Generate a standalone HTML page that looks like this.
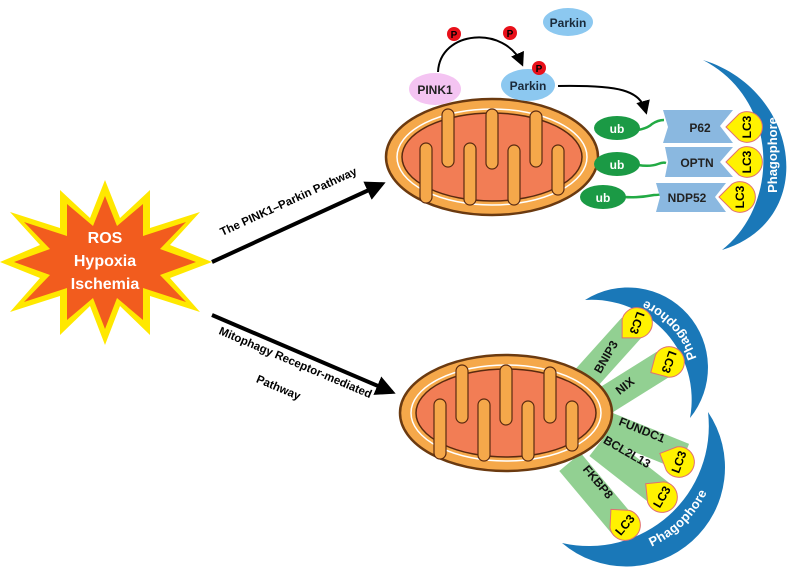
<!DOCTYPE html>
<html><head><meta charset="utf-8"><style>
html,body{margin:0;padding:0;background:#fff;}
svg{display:block;font-family:"Liberation Sans",Arial,sans-serif;font-weight:bold;}
</style></head><body>
<svg width="795" height="574" viewBox="0 0 795 574">
<defs>
  <marker id="ah" viewBox="0 0 10 10" refX="8" refY="5" markerWidth="5" markerHeight="5" orient="auto"><path d="M0,0 L10,5 L0,10 Z" fill="#000"/></marker>
  <marker id="ah2" viewBox="0 0 10 10" refX="8" refY="5" markerWidth="7" markerHeight="7" orient="auto"><path d="M0,0 L10,5 L0,10 Z" fill="#000"/></marker>
  <g id="mito">
    <ellipse cx="0" cy="0" rx="106" ry="58" fill="#F5A84A" stroke="#6b3a10" stroke-width="2.5"/>
    <ellipse cx="0" cy="0" rx="95" ry="48" fill="none" stroke="#fff" stroke-width="1.5"/>
    <ellipse cx="0" cy="0" rx="90" ry="44" fill="#F27D55" stroke="#5a2a10" stroke-width="1.5"/>
    <g fill="#F5A84A" stroke="#5a2a10" stroke-width="1.2">
      <rect x="-72" y="-14" width="12" height="60" rx="6"/>
      <rect x="-50" y="-48" width="12" height="58" rx="6"/>
      <rect x="-28" y="-14" width="12" height="62" rx="6"/>
      <rect x="-6" y="-48" width="12" height="60" rx="6"/>
      <rect x="16" y="-12" width="12" height="60" rx="6"/>
      <rect x="38" y="-46" width="12" height="56" rx="6"/>
      <rect x="60" y="-12" width="12" height="50" rx="6"/>
    </g>
  </g>
  <path id="lc3" d="M-21,0 L-8,-13 A15.3,15.3 0 1 1 -8,13 Z" fill="#FFF200" stroke="#E07070" stroke-width="1"/>
  <path id="arcU" d="M690,418 A89,89 0 0 0 585,300" fill="none"/>
  <path id="arcL" d="M562,543 A108,108 0 0 0 708,412" fill="none"/>
</defs>

<!-- Starburst -->
<g>
  <polygon fill="#FFE800" points="105,180 120,218 150,190 150,228 200,212 170,245 212,262 170,278 200,312 150,296 150,335 120,306 105,345 90,306 60,335 60,296 10,312 40,278 0,262 40,245 10,212 60,228 60,190 90,218"/>
  <polygon fill="#F25C1E" points="105,196 117,226 143,204 143,236 186,222 160,249 196,262 160,275 186,302 143,288 143,320 117,298 105,329 93,298 67,320 67,288 24,302 50,275 14,262 50,249 24,222 67,236 67,204 93,226"/>
  <text x="105" y="243" fill="#fff" font-size="16" text-anchor="middle">ROS</text>
  <text x="105" y="266" fill="#fff" font-size="16" text-anchor="middle">Hypoxia</text>
  <text x="105" y="289" fill="#fff" font-size="16" text-anchor="middle">Ischemia</text>
</g>

<!-- Arrows -->
<line x1="212" y1="262" x2="382" y2="184" stroke="#000" stroke-width="4" marker-end="url(#ah)"/>
<line x1="212" y1="315" x2="392" y2="392" stroke="#000" stroke-width="4" marker-end="url(#ah)"/>
<text transform="translate(290,205) rotate(-24.6)" font-size="11.5" text-anchor="middle">The PINK1–Parkin Pathway</text>
<text transform="translate(294,366) rotate(23)" font-size="11.5" text-anchor="middle">Mitophagy Receptor-mediated</text>
<text transform="translate(277,391) rotate(23)" font-size="11.5" text-anchor="middle">Pathway</text>

<!-- Top pathway -->
<use href="#mito" transform="translate(492,157)"/>
<ellipse cx="568" cy="22" rx="25" ry="14" fill="#8CC8F0"/>
<text x="568" y="27" font-size="12" text-anchor="middle" fill="#1a2a3a">Parkin</text>
<path d="M438,72 C440,30 505,25 522,64" fill="none" stroke="#000" stroke-width="2" marker-end="url(#ah2)"/>
<ellipse cx="435" cy="89" rx="26" ry="16" fill="#F4C4F2"/>
<text x="435" y="94" font-size="12" text-anchor="middle" fill="#222">PINK1</text>
<ellipse cx="528" cy="85" rx="27" ry="16" fill="#8CC8F0"/>
<text x="528" y="90" font-size="12" text-anchor="middle" fill="#1a2a3a">Parkin</text>
<g font-size="10" fill="#000" text-anchor="middle">
  <circle cx="454" cy="34" r="7" fill="#E8101A"/><text x="454" y="38">P</text>
  <circle cx="510" cy="33" r="7" fill="#E8101A"/><text x="510" y="37">P</text>
  <circle cx="539" cy="68" r="7" fill="#E8101A"/><text x="539" y="72">P</text>
</g>
<path d="M558,86 C620,85 640,90 646,112" fill="none" stroke="#000" stroke-width="2" marker-end="url(#ah2)"/>
<g stroke="#22aa44" stroke-width="2.5" fill="none">
  <path d="M638,130 q10,-2 14,-6 q6,-4 12,-4"/>
  <path d="M638,165 q12,2 20,-1 q5,-2 8,-1"/>
  <path d="M624,197 q15,1 30,-2 q5,0 8,-1"/>
</g>
<g fill="#1B9A45">
  <ellipse cx="617" cy="128" rx="23" ry="12"/><ellipse cx="617" cy="164" rx="23" ry="12"/><ellipse cx="603" cy="197" rx="23" ry="12"/>
</g>
<g font-size="12" fill="#fff" text-anchor="middle"><text x="617" y="133">ub</text><text x="617" y="169">ub</text><text x="603" y="202">ub</text></g>
<g fill="#8AB8E0">
  <polygon points="663,110 733,110 720,126 733,143 663,143 668,127"/>
  <polygon points="665,147 733,147 720,162 733,177 665,177 668,162"/>
  <polygon points="656,183 726,183 715,197 726,212 656,212 660,197"/>
</g>
<g font-size="12" fill="#222" text-anchor="middle"><text x="700" y="132">P62</text><text x="697" y="167">OPTN</text><text x="687" y="202">NDP52</text></g>
<path d="M703,60 C800,90 820,220 722,250 C780,205 780,100 703,60 Z" fill="#1A78B8"/>
<text transform="translate(777,155) rotate(-90)" font-size="13" fill="#fff" text-anchor="middle">Phagophore</text>
<g>
  <use href="#lc3" transform="translate(747,127)"/><use href="#lc3" transform="translate(747,162)"/><use href="#lc3" transform="translate(740,197)"/>
  <g font-size="12" fill="#000" text-anchor="middle">
    <text transform="translate(747,127) rotate(-90)" dy="4">LC3</text>
    <text transform="translate(747,162) rotate(-90)" dy="4">LC3</text>
    <text transform="translate(740,197) rotate(-90)" dy="4">LC3</text>
  </g>
</g>

<!-- Bottom pathway -->
<path d="M585,300 A80,80 0 0 1 690,418 A100,100 0 0 0 585,300 Z" fill="#1A78B8"/>
<path d="M708,412 A99,99 0 0 1 562,543 A120,120 0 0 0 708,412 Z" fill="#1A78B8"/>
<text font-size="13" fill="#fff" text-anchor="middle" dominant-baseline="central"><textPath href="#arcU" startOffset="50%">Phagophore</textPath></text>
<text font-size="13" fill="#fff" text-anchor="middle" dominant-baseline="central"><textPath href="#arcL" startOffset="52%">Phagophore</textPath></text>
<g fill="#92D092">
  <rect x="0" y="-14" width="78" height="28" transform="translate(580,385) rotate(-48)"/>
  <rect x="0" y="-14" width="78" height="28" transform="translate(598,405) rotate(-32)"/>
  <rect x="0" y="-14" width="85" height="28" transform="translate(605,425) rotate(22)"/>
  <rect x="0" y="-14" width="80" height="28" transform="translate(598,445) rotate(38)"/>
  <rect x="0" y="-14" width="85" height="28" transform="translate(570,462) rotate(50)"/>
</g>
<use href="#mito" transform="translate(506,413)"/>
<g font-size="12" fill="#111" text-anchor="middle">
  <text transform="translate(606,357) rotate(-60)" dy="4">BNIP3</text>
  <text transform="translate(625,386) rotate(-38)" dy="4">NIX</text>
  <text transform="translate(642,430) rotate(22)" dy="4">FUNDC1</text>
  <text transform="translate(627,452) rotate(30)" dy="4">BCL2L13</text>
  <text transform="translate(598,482) rotate(50)" dy="4">FKBP8</text>
</g>
<g>
  <use href="#lc3" transform="translate(637,323) rotate(-45)"/>
  <use href="#lc3" transform="translate(669,362) rotate(-30)"/>
  <use href="#lc3" transform="translate(679,462) rotate(24)"/>
  <use href="#lc3" transform="translate(662,497) rotate(39)"/>
  <use href="#lc3" transform="translate(625,525) rotate(48)"/>
  <g font-size="12" fill="#000" text-anchor="middle">
    <text transform="translate(637,323) rotate(110)" dy="4">LC3</text>
    <text transform="translate(669,362) rotate(110)" dy="4">LC3</text>
    <text transform="translate(679,462) rotate(-70)" dy="4">LC3</text>
    <text transform="translate(662,497) rotate(-60)" dy="4">LC3</text>
    <text transform="translate(625,525) rotate(-50)" dy="4">LC3</text>
  </g>
</g>
</svg>
</body></html>
